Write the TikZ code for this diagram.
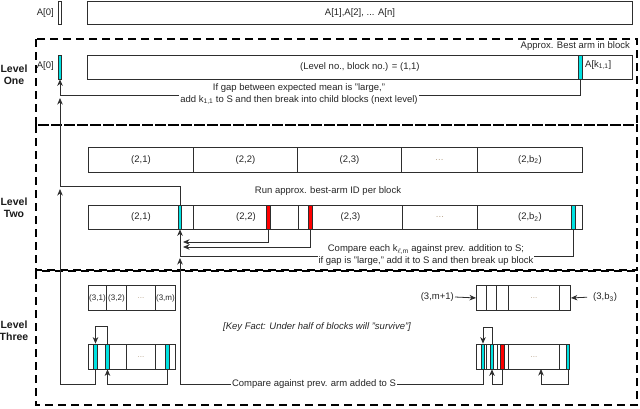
\documentclass[tikz,border=0pt]{standalone}
\usepackage{fontspec}
\setmainfont{Liberation Sans}
\usetikzlibrary{arrows.meta}
\definecolor{linegray}{HTML}{2E2E2E}
\definecolor{barcyan}{HTML}{00E2E2}
\definecolor{barred}{HTML}{FF0000}
\definecolor{dotgray}{HTML}{B8A48C}
\tikzset{
  cell/.style={draw=linegray, line width=0.9pt, inner sep=0pt, anchor=north west, text=black!85, font=\fontsize{9.5}{11}\selectfont},
  smallcell/.style={cell, font=\fontsize{8}{9}\selectfont},
  cyanbar/.style={draw=linegray, line width=0.7pt, fill=barcyan, inner sep=0pt, minimum width=3.5pt},
  redbar/.style={cyanbar, fill=barred},
  conn/.style={draw=linegray, line width=0.8pt, -{Stealth[length=6.5pt,width=5.5pt,inset=2pt]}},
  levelbox/.style={draw=black, line width=2.8pt, dash pattern=on 8pt off 5pt},
  levelname/.style={font=\fontsize{10.5}{12}\selectfont\bfseries, align=center, text=black!90},
  note/.style={font=\fontsize{9.5}{12}\selectfont, align=center, text=black!85, inner sep=1pt}
}
\newcommand{\dotsin}{\textcolor{dotgray}{...}}
\begin{document}
\begin{tikzpicture}[x=1pt, y=-1pt]
  \useasboundingbox (0,0) rectangle (640,408);

  % level frames
  \draw[levelbox] (36,39) rectangle (637,125);
  \draw[levelbox] (36,125) rectangle (637,270);
  \draw[levelbox] (36,271) rectangle (637,405);
  \node[levelname] (lvlone) at (14,75) {Level\\One};
  \node[levelname] (lvltwo) at (14,208) {Level\\Two};
  \node[levelname] (lvlthree) at (14,331) {Level\\Three};

  % the whole array
  \node[cyanbar, fill=white, minimum height=23pt] (a0) at (60,12.5) {};
  \node[note, anchor=east] (a0lbl) at (55,13) {A[0]};
  \node[cell, minimum width=545pt, minimum height=23pt] (arr) at (87,1) {A[1],A[2], ... A[n]};

  % level one
  \node[cell, minimum width=545pt, minimum height=24pt] (l1row) at (87,55) {(Level no., block no.) = (1,1)};
  \node[cyanbar, minimum height=24pt] (l1a0) at (60,67) {};
  \node[note, anchor=east] (l1a0lbl) at (55,66) {A[0]};
  \node[cyanbar, minimum height=24pt] (l1k) at (580.5,67) {};
  \node[note, anchor=west] (l1klbl) at (584,65) {A[k\textsubscript{1,1}]};
  \node[note, anchor=east] (l1best) at (631,46) {Approx. Best arm in block};
  \draw[conn] (l1k.south) -- ++(0,16) -| (l1a0.south);
  \node[note, fill=white] (l1gap) at (299,94) {If gap between expected mean is "large,"\\add k\textsubscript{1,1} to S and then break into child blocks (next level)};

  % level two
  \coordinate (j1) at (60,98);
  \coordinate (r1in) at (183,242);
  \coordinate (r2in) at (183,247);
  \node[cell, minimum width=105pt, minimum height=25pt] (l2t1) at (88,147) {(2,1)};
  \node[cell, minimum width=104pt, minimum height=25pt] (l2t2) at (193,147) {(2,2)};
  \node[cell, minimum width=104pt, minimum height=25pt] (l2t3) at (297,147) {(2,3)};
  \node[cell, minimum width=76pt, minimum height=25pt] (l2t4) at (401,147) {\dotsin};
  \node[cell, minimum width=105pt, minimum height=25pt] (l2t5) at (477,147) {(2,b\textsubscript{2})};
  \node[note] (l2run) at (328,191) {Run approx. best-arm ID per block};
  \node[cell, minimum width=105pt, minimum height=24pt] (l2b1) at (88,205) {(2,1)};
  \node[cell, minimum width=105pt, minimum height=24pt] (l2b2) at (193,205) {(2,2)};
  \node[cell, minimum width=104pt, minimum height=24pt] (l2b3) at (298,205) {(2,3)};
  \node[cell, minimum width=75pt, minimum height=24pt] (l2b4) at (402,205) {\dotsin};
  \node[cell, minimum width=105pt, minimum height=24pt] (l2b5) at (477,205) {(2,b\textsubscript{2})};
  \node[cyanbar, minimum height=24pt] (l2c1) at (180,217) {};
  \node[redbar, minimum height=24pt] (l2r1) at (268.5,217) {};
  \node[redbar, minimum height=24pt] (l2r2) at (310.5,217) {};
  \node[cyanbar, minimum height=24pt] (l2c5) at (573.5,217) {};
  \draw[conn] (l2c1.north) -- ++(0,-18) -| (j1);
  \draw[conn] (l2c5.south) -- ++(0,27) -| (l2c1.south);
  \draw[conn] (l2r1.south) |- (r1in);
  \draw[conn] (l2r2.south) |- (r2in);
  \node[note, fill=white] (l2gap) at (426,255) {Compare each k\textsubscript{$\ell$,m} against prev. addition to S;\\if gap is "large," add it to S and then break up block};

  % level three
  \coordinate (j2) at (60,189);
  \coordinate (j3) at (180,258);
  \coordinate (l3gin) at (541,369);
  \node[smallcell, minimum width=18pt, minimum height=25pt] (l3t1) at (88,285) {(3,1)};
  \node[smallcell, minimum width=20pt, minimum height=25pt] (l3t2) at (106,285) {(3,2)};
  \node[smallcell, minimum width=29pt, minimum height=25pt] (l3t3) at (126,285) {\dotsin};
  \node[smallcell, minimum width=20pt, minimum height=25pt] (l3t4) at (155,285) {(3,m)};
  \node[smallcell, minimum width=18pt, minimum height=25pt] (l3b1) at (88,344) {};
  \node[smallcell, minimum width=20pt, minimum height=25pt] (l3b2) at (106,344) {};
  \node[smallcell, minimum width=29pt, minimum height=25pt] (l3b3) at (126,344) {\dotsin};
  \node[smallcell, minimum width=20pt, minimum height=25pt] (l3b4) at (155,344) {};
  \node[cyanbar, minimum height=25pt] (l3a) at (95.5,356.5) {};
  \node[cyanbar, minimum height=25pt] (l3b) at (107.5,356.5) {};
  \node[cyanbar, minimum height=25pt] (l3c) at (167.5,356.5) {};
  \draw[conn] (l3b.north) -- ++(0,-17) -| (l3a.north);
  \draw[conn] (l3c.south) -- ++(0,15) -| (l3b.south);
  \draw[conn] (l3a.south) -- ++(0,15) -| (j2);

  \node[smallcell, minimum width=10pt, minimum height=25pt] (l3rt1) at (476,285) {};
  \node[smallcell, minimum width=10pt, minimum height=25pt] (l3rt2) at (486,285) {};
  \node[smallcell, minimum width=12pt, minimum height=25pt] (l3rt3) at (496,285) {};
  \node[smallcell, minimum width=51pt, minimum height=25pt] (l3rt4) at (508,285) {\dotsin};
  \node[smallcell, minimum width=11pt, minimum height=25pt] (l3rt5) at (559,285) {};
  \node[note, anchor=east] (l3mlbl) at (455,297) {(3,m+1)};
  \node[note, anchor=west] (l3blbl) at (592,297) {(3,b\textsubscript{3})};
  \draw[conn] (l3mlbl.east) -- (l3rt1.west);
  \draw[conn, shorten <=5pt] (l3blbl.west) -- (l3rt5.east);
  \node[smallcell, minimum width=10pt, minimum height=25pt] (l3rb1) at (476,344) {};
  \node[smallcell, minimum width=11pt, minimum height=25pt] (l3rb2) at (486,344) {};
  \node[smallcell, minimum width=11pt, minimum height=25pt] (l3rb3) at (497,344) {};
  \node[smallcell, minimum width=51pt, minimum height=25pt] (l3rb4) at (508,344) {\dotsin};
  \node[smallcell, minimum width=10pt, minimum height=25pt] (l3rb5) at (559,344) {};
  \node[cyanbar, minimum height=25pt] (l3d) at (483,356.5) {};
  \node[cyanbar, minimum height=25pt] (l3e) at (492,356.5) {};
  \node[redbar, minimum height=25pt] (l3f) at (502.5,356.5) {};
  \node[cyanbar, minimum height=25pt] (l3g) at (568,356.5) {};
  \draw[conn] (l3e.north) -- ++(0,-16) -| (l3d.north);
  \draw[conn] (l3f.south) -- ++(0,15) -| (l3e.south);
  \draw[conn] (l3g.south) -- ++(0,15) -| (l3gin);
  \draw[conn] (l3d.south) -- ++(0,15) -| (j3);
  \node[note, fill=white] (l3cmp) at (314,384.5) {Compare against prev. arm added to S};
  \node[note, font=\fontsize{9.5}{11}\selectfont\itshape] (keyfact) at (317,327) {[Key Fact: Under half of blocks will "survive"]};
\end{tikzpicture}
\end{document}
